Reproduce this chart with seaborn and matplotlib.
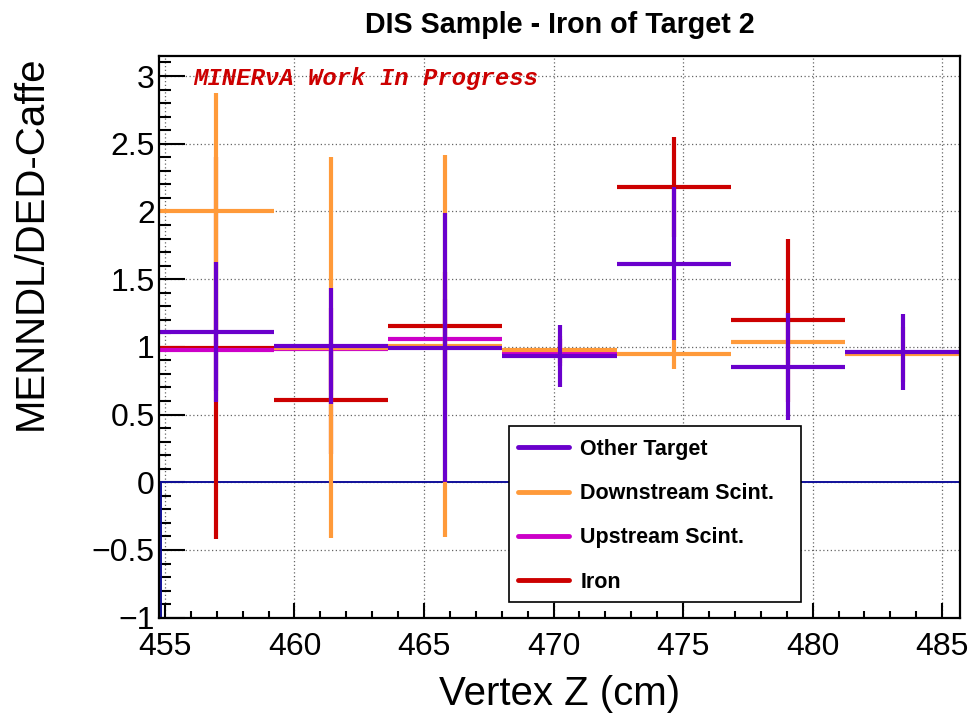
import numpy as np
import pandas as pd
import matplotlib
matplotlib.use("Agg")
import matplotlib.pyplot as plt
from matplotlib.lines import Line2D
from matplotlib.patches import Rectangle
from matplotlib.font_manager import FontProperties
from matplotlib.ticker import MultipleLocator, FixedLocator
import seaborn as sns

# ---- data ----
bin_edges = [454.77, 459.19, 463.60, 468.02, 472.44, 476.85, 481.27, 485.69]
series_names = ["Other Target", "Downstream Scint.", "Upstream Scint.", "Iron"]
other_target = [1.109, 1.006, 0.994, 0.932, 1.613, 0.853, 0.964]
other_target_err = [0.518, 0.430, 0.995, 0.230, 0.565, 0.395, 0.280]
downstream = [2.000, 0.995, 1.005, 0.978, 0.947, 1.033, 0.944]
downstream_err = [0.872, 1.410, 1.410, 0.100, 0.110, 0.150, 0.200]
upstream = [0.975, 0.985, 1.056, 0.958, np.nan, np.nan, np.nan]
upstream_err = [0.300, 0.300, 0.300, 0.100, np.nan, np.nan, np.nan]
iron = [0.990, 0.611, 1.153, np.nan, 2.180, 1.195, np.nan]
iron_err = [1.410, 0.400, 0.400, np.nan, 0.368, 0.602, np.nan]
colors = {"Other Target": "#6a00cc", "Downstream Scint.": "#ff9a3a",
          "Upstream Scint.": "#cc00c8", "Iron": "#cc0000"}
x_ticks = [455, 460, 465, 470, 475, 480, 485]
y_ticks = [-1, -0.5, 0, 0.5, 1, 1.5, 2, 2.5, 3]

edges = np.array(bin_edges)
centers = 0.5 * (edges[:-1] + edges[1:])
half_w = 0.5 * (edges[1:] - edges[:-1])

frames = []
for name, v, e in [("Other Target", other_target, other_target_err),
                   ("Downstream Scint.", downstream, downstream_err),
                   ("Upstream Scint.", upstream, upstream_err),
                   ("Iron", iron, iron_err)]:
    frames.append(pd.DataFrame({"z": centers, "xerr": half_w, "value": v,
                                "err": e, "series": name}))
df = pd.concat(frames, ignore_index=True)

# ---- style ----
sns.set_style("white")
plt.rcParams["font.family"] = ["Liberation Sans", "DejaVu Sans"]
plt.rcParams["axes.unicode_minus"] = True
plt.rcParams["text.color"] = "black"
plt.rcParams["axes.labelcolor"] = "black"
plt.rcParams["xtick.color"] = "black"
plt.rcParams["ytick.color"] = "black"

fig = plt.figure(figsize=(9.72, 7.22), dpi=100)
W, H = 972, 722
ax = fig.add_axes([159 / W, 1 - 617.7 / H, 801 / W, 562 / H])

zorders = {"Iron": 2, "Upstream Scint.": 3, "Downstream Scint.": 4, "Other Target": 5}
for name in ["Iron", "Upstream Scint.", "Downstream Scint.", "Other Target"]:
    d = df[df["series"] == name].dropna()
    ax.errorbar(d["z"], d["value"], xerr=d["xerr"], yerr=d["err"], fmt="none",
                ecolor=colors[name], elinewidth=3.0, capsize=0, zorder=zorders[name])
    sns.scatterplot(data=d, x="z", y="value", color=colors[name], marker="s", s=6,
                    linewidth=0, legend=False, ax=ax, zorder=zorders[name] + 0.5)

# zero line
ax.axhline(0, color="#10109a", lw=1.4, zorder=1.5)
ax.vlines(edges[0] + 0.06, -1, 0, color="#10109a", lw=1.4, zorder=1.5)

ax.set_xlim(edges[0], edges[-1])
ax.set_ylim(-1, 3.15)
ax.xaxis.set_major_locator(FixedLocator(x_ticks))
ax.xaxis.set_minor_locator(MultipleLocator(1))
ax.yaxis.set_major_locator(FixedLocator(y_ticks))
ax.yaxis.set_minor_locator(MultipleLocator(0.1))
ax.set_xticklabels([str(t) for t in x_ticks])
ax.set_yticklabels([("\u2212" + f"{abs(t):g}") if t < 0 else f"{t:g}" for t in y_ticks])

ax.grid(True, which="major", color="#666666", lw=0.9, linestyle=(0, (1, 2)))
ax.set_axisbelow(True)
for s in ax.spines.values():
    s.set_linewidth(1.6)
    s.set_color("black")
    s.set_zorder(20)

ax.tick_params(axis="both", which="both", direction="in", colors="black",
               top=False, right=False, bottom=True, left=True, width=1.5)
ax.tick_params(axis="y", which="major", length=18.7, labelsize=23, pad=3)
ax.tick_params(axis="y", which="minor", length=8.6)
ax.tick_params(axis="x", which="major", length=10.8, labelsize=23, pad=10)
ax.tick_params(axis="x", which="minor", length=5)

ax.set_xlabel("Vertex Z (cm)", fontsize=29, color="black")
ax.xaxis.set_label_coords(0.5, -0.102)
ax.xaxis.label.set_va("top")
ax.set_ylabel("MENNDL/DED-Caffe", fontsize=29, loc="top", color="black")
ax.yaxis.set_label_coords(-0.137, 1.0)

ax.set_title("DIS Sample - Iron of Target 2", fontsize=20.6, fontweight="bold",
             pad=16, color="black")

fig.text(193 / W, 1 - 78.3 / H, "MINER\u03bdA Work In Progress", ha="left", va="center",
         family=["Liberation Mono", "DejaVu Sans Mono"], weight="bold", style="italic",
         size=17.2, color="#cc0000")

# legend box
box = Rectangle((509.3 / W, 1 - 602.3 / H), (801 - 509.3) / W, (602.3 - 425.7) / H,
                transform=fig.transFigure, facecolor="white", edgecolor="black",
                lw=1.2, zorder=30)
ax.add_patch(box)
box.set_clip_on(False)
handles = [Line2D([0], [0], color=colors[n], lw=3.5) for n in series_names]
leg = ax.legend(handles, series_names, loc="upper left",
                bbox_to_anchor=(518 / W, 1 - 439 / H), bbox_transform=fig.transFigure,
                frameon=False, prop=FontProperties(family="Liberation Sans", weight="bold", size=15.5),
                handlelength=2.35, handletextpad=0.55, labelspacing=1.08,
                borderpad=0, borderaxespad=0)
for t in leg.get_texts():
    t.set_color("black")
leg.set_zorder(31)

fig.savefig("out.png", dpi=100)
